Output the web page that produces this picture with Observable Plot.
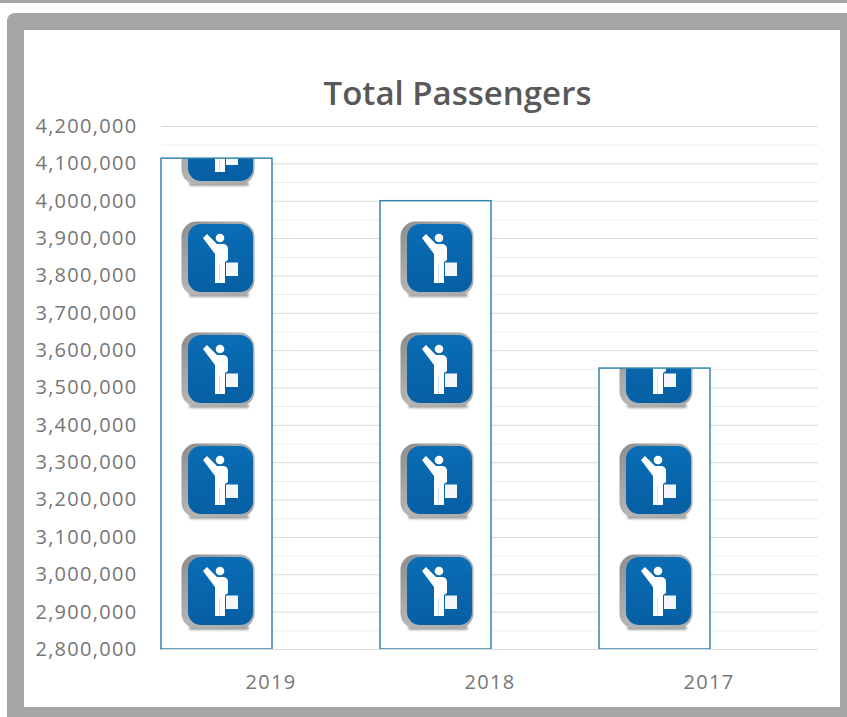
<!DOCTYPE html>
<html>
<head>
<meta charset="utf-8">
<script src="https://cdn.jsdelivr.net/npm/d3@7"></script>
<script src="https://cdn.jsdelivr.net/npm/@observablehq/plot@0.6"></script>
<style>
  html, body { margin: 0; background: #fff; }
  #page { position: relative; width: 847px; height: 717px; overflow: hidden; background: #fff; }
  #topline { position: absolute; left: 0; right: 0; top: 0; height: 3px; background: #a6a6a6; }
  #frame { position: absolute; left: 7px; top: 13px; width: 860px; height: 704px; background: #a6a6a6; border-radius: 8px 0 0 0; }
  #panel { position: absolute; left: 24px; top: 30px; width: 816px; height: 677px; background: #fff; }
  #title { position: absolute; left: 0; top: 42px; width: 867px; text-align: center; height: 42px;
           font: 600 33px/42px "Open Sans", sans-serif; color: #595959; }
  #chart { position: absolute; left: 0; top: 0; }
  #chart svg { display: block; }
  #chart svg text { letter-spacing: 1.3px; }
</style>
</head>
<body>
<div id="page">
  <div id="topline"></div>
  <div id="frame"></div>
  <div id="panel">
    <div id="chart"></div>
    <div id="title">Total Passengers</div>
  </div>
</div>
<script>
// Passengers carried per year
const years = ["2019", "2018", "2017"];
const passengers = [4114000, 4000000, 3552000];

// Value axis
const axisMin = 2800000;
const axisMax = 4200000;
const majorStep = 100000;
const minorStep = 50000;

const rows = years.map((year, i) => ({year, total: passengers[i]}));
const majorTicks = d3.range(axisMin, axisMax + 1, majorStep);
const minorTicks = d3.range(axisMin + minorStep, axisMax, majorStep);

const barWidth = 111;

const chart = Plot.plot({
  width: 816,
  height: 677,
  marginLeft: 137,
  marginRight: 22,
  marginTop: 96,
  marginBottom: 58,
  style: {fontFamily: "'Open Sans', sans-serif", fontSize: "20px", background: "transparent", color: "#767676"},
  x: {type: "band", domain: years, padding: 0, round: false, label: null, tickSize: 0, tickPadding: 25},
  y: {domain: [axisMin, axisMax], label: null, ticks: majorTicks, tickSize: 0, tickPadding: 24, tickFormat: d3.format(",")},
  marks: [
    Plot.ruleY(minorTicks, {stroke: "#ececec", strokeWidth: 1}),
    Plot.ruleY(majorTicks, {stroke: "#d9d9d9", strokeWidth: 1}),
    Plot.barY(rows, {
      x: "year",
      y1: () => axisMin,
      y2: "total",
      insetRight: 108,
      fill: "url(#passenger-tile)",
      stroke: "#3585ad",
      strokeWidth: 1.5
    }),
    Plot.ruleY([axisMin], {stroke: "#d9d9d9", strokeWidth: 1})
  ]
});

// One pictogram per tile, stacked up from the baseline and cut off at each bar's top
const xScale = chart.scale("x");
const yScale = chart.scale("y");
const defs = d3.select(chart).insert("defs", ":first-child");

const bevel = defs.append("linearGradient").attr("id", "icon-bevel").attr("x1", 0).attr("x2", 1).attr("y1", 0).attr("y2", 1);
bevel.append("stop").attr("offset", 0).attr("stop-color", "#8c8c8c");
bevel.append("stop").attr("offset", 0.5).attr("stop-color", "#b4b4b4");
bevel.append("stop").attr("offset", 1).attr("stop-color", "#a8a8a8");

const face = defs.append("linearGradient").attr("id", "icon-face").attr("x1", 0).attr("x2", 0).attr("y1", 0).attr("y2", 1);
face.append("stop").attr("offset", 0).attr("stop-color", "#0a6db5");
face.append("stop").attr("offset", 1).attr("stop-color", "#065fa3");

const soft = defs.append("filter").attr("id", "icon-soft").attr("x", "-20%").attr("y", "-60%").attr("width", "140%").attr("height", "220%");
soft.append("feGaussianBlur").attr("stdDeviation", 1.2);
const edge = defs.append("filter").attr("id", "icon-edge").attr("x", "-10%").attr("y", "-10%").attr("width", "120%").attr("height", "120%");
edge.append("feGaussianBlur").attr("stdDeviation", 0.5);

const tile = defs.append("pattern")
  .attr("id", "passenger-tile")
  .attr("patternUnits", "userSpaceOnUse")
  .attr("x", xScale.apply(years[0]))
  .attr("y", yScale.apply(axisMin) - barWidth)
  .attr("width", xScale.step)
  .attr("height", barWidth);

tile.append("rect").attr("width", xScale.step).attr("height", barWidth).attr("fill", "#fff");
tile.append("rect").attr("x", 28).attr("y", 88).attr("width", 60).attr("height", 4).attr("rx", 2)
  .attr("fill", "#a0a0a0").attr("filter", "url(#icon-soft)");
tile.append("rect").attr("x", 20.5).attr("y", 16.5).attr("width", 73).attr("height", 74).attr("rx", 15)
  .attr("fill", "url(#icon-bevel)").attr("filter", "url(#icon-edge)");
tile.append("rect").attr("x", 27).attr("y", 19).attr("width", 65).attr("height", 68).attr("rx", 13)
  .attr("fill", "url(#icon-face)");
tile.append("circle").attr("cx", 59).attr("cy", 33).attr("r", 4.3).attr("fill", "#fff");
tile.append("path")
  .attr("fill", "#fff")
  .attr("d", "M42 33 L46 29 L56 39 L63 39 Q67 40 67 44 L67 55 L64 57 L64 78 L54 78 L54 49 Z");
tile.append("path")
  .attr("fill", "#f3f7fb")
  .attr("d", "M65 57.5 L77 57.5 L77 71 L65 71 Z");
tile.append("path").attr("stroke", "#c3dbeb").attr("stroke-width", 0.8).attr("d", "M58.5 60 V78");

document.getElementById("chart").appendChild(chart);
</script>
</body>
</html>
